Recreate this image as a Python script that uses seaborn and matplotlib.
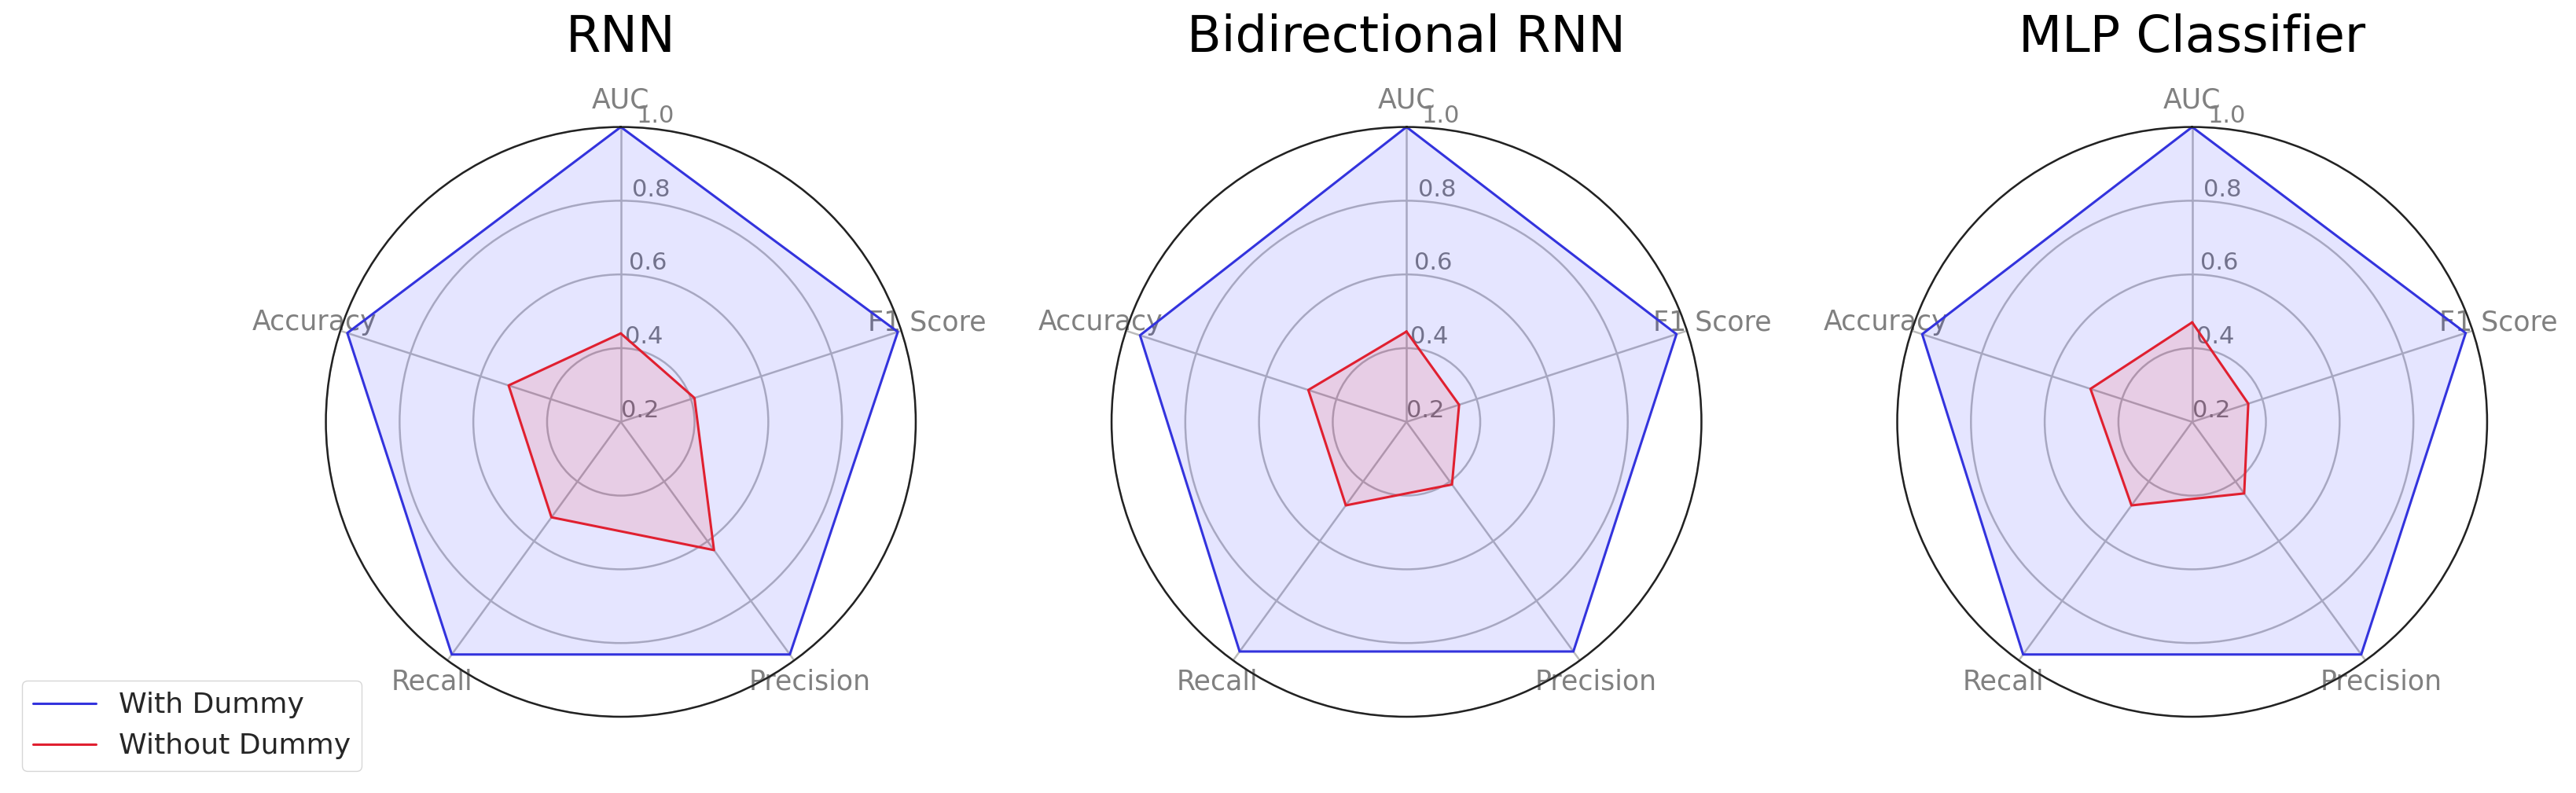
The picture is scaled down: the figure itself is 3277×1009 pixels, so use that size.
import numpy as np
import matplotlib
matplotlib.use("Agg")
import matplotlib.pyplot as plt
import seaborn as sns

metrics = ['AUC', 'F1 Score', 'Precision', 'Recall', 'Accuracy']
models = ['RNN', 'Bidirectional RNN', 'MLP Classifier']
with_dummy = {
    'RNN': [1.0, 0.99, 0.98, 0.98, 0.98],
    'Bidirectional RNN': [1.0, 0.97, 0.97, 0.97, 0.96],
    'MLP Classifier': [1.0, 0.98, 0.98, 0.98, 0.97],
}
without_dummy = {
    'RNN': [0.44, 0.41, 0.63, 0.52, 0.52],
    'Bidirectional RNN': [0.445, 0.35, 0.41, 0.48, 0.48],
    'MLP Classifier': [0.47, 0.36, 0.44, 0.48, 0.49],
}

sns.set_style("white")
plt.rcParams['font.family'] = ['DejaVu Sans']

angles = np.linspace(0, 2 * np.pi, len(metrics), endpoint=False).tolist()
angles_closed = angles + angles[:1]

fig = plt.figure(figsize=(32.77, 10.09), dpi=100)
centers = [0.241, 0.546, 0.851]
for name, cx in zip(models, centers):
    ax = fig.add_axes([cx - 0.1145, 0.096, 0.229, 0.744], projection='polar')
    ax.set_theta_offset(np.pi / 2)
    ax.set_theta_direction(-1)
    v1 = with_dummy[name] + with_dummy[name][:1]
    v2 = without_dummy[name] + without_dummy[name][:1]
    ax.plot(angles_closed, v1, color='#3333dd', linewidth=2.2, label='With Dummy')
    ax.fill(angles_closed, v1, color='blue', alpha=0.1)
    ax.plot(angles_closed, v2, color='#e02030', linewidth=2.2, label='Without Dummy')
    ax.fill(angles_closed, v2, color='red', alpha=0.1)
    ax.set_ylim(0.2, 1.0)
    ax.set_yticks([0.2, 0.4, 0.6, 0.8, 1.0])
    ax.set_yticklabels(['0.2', '0.4', '0.6', '0.8', '1.0'], color='gray', fontsize=22)
    ax.set_rlabel_position(3)
    ax.set_xticks(angles)
    ax.set_xticklabels(metrics, color='gray', fontsize=25)
    ax.tick_params(axis='x', pad=14)
    ax.grid(True, color='#bbbbbb', linewidth=1.8)
    ax.spines['polar'].set_color('#222222')
    ax.spines['polar'].set_linewidth(1.8)
    ax.set_title(name, fontsize=46, pad=32, color='black')
    if name == 'RNN':
        handles, labels = ax.get_legend_handles_labels()

fig.legend(handles, labels, loc='lower left', bbox_to_anchor=(0.003, 0.01),
           fontsize=26, frameon=True, handlelength=2.2)
fig.savefig('out.png', dpi=100)
